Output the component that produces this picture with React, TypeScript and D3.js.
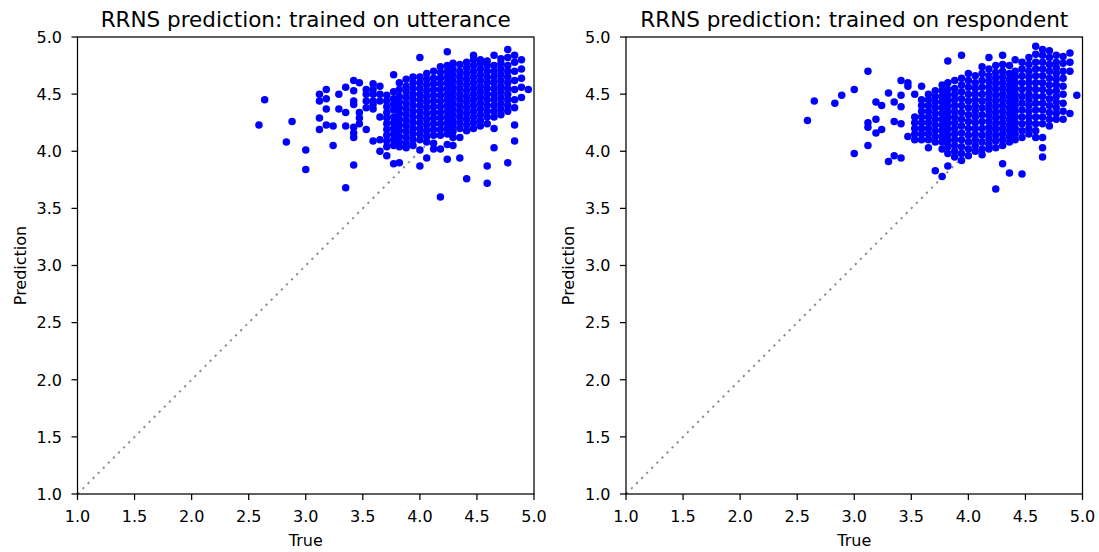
import React from "react";
import * as d3 from "d3";

const titles = [
  "RRNS prediction: trained on utterance",
  "RRNS prediction: trained on respondent",
];
const xLabel = "True";
const yLabel = "Prediction";
const tickValues = [1.0, 1.5, 2.0, 2.5, 3.0, 3.5, 4.0, 4.5, 5.0];
const diagRange = [1, 4.75];

// Panel 1: trained on utterance — columns of true value with predictions
const uttTrue = [
  2.59, 2.64, 2.83, 2.88, 3.0, 3.12, 3.18, 3.24, 3.29, 3.35, 3.42, 3.47, 3.53, 3.59, 3.65,
  3.71, 3.77, 3.82, 3.88, 3.94, 4.0, 4.06, 4.12, 4.18, 4.24, 4.29, 4.35, 4.41, 4.47, 4.53,
  4.59, 4.65, 4.71, 4.77, 4.83, 4.89, 4.95,
];
const uttPred = [
  [4.23],
  [4.45],
  [4.08],
  [4.26],
  [4.01, 3.84],
  [4.5, 4.44, 4.29, 4.19],
  [4.54, 4.46, 4.37, 4.23],
  [4.22, 4.05],
  [4.5, 4.37],
  [4.56, 4.34, 4.22, 3.68],
  [4.62, 4.53, 4.44, 4.41, 4.21, 4.16, 4.12, 3.88],
  [4.6, 4.34, 4.29, 4.24],
  [4.54, 4.5, 4.44, 4.38, 4.19],
  [4.59, 4.54, 4.5, 4.44, 4.41, 4.37, 4.09],
  [4.57, 4.5, 4.44, 4.3, 4.1, 4.0],
  [3.96, 4.04, 4.09, 4.14, 4.19, 4.24, 4.29, 4.34, 4.39, 4.44, 4.49],
  [3.89, 4.05, 4.1, 4.15, 4.2, 4.25, 4.3, 4.36, 4.41, 4.46, 4.52, 4.67],
  [3.9, 4.04, 4.08, 4.13, 4.18, 4.23, 4.28, 4.33, 4.38, 4.43, 4.48, 4.54, 4.6],
  [4.03, 4.07, 4.12, 4.17, 4.22, 4.27, 4.32, 4.37, 4.42, 4.47, 4.52, 4.57, 4.63],
  [4.05, 4.1, 4.15, 4.2, 4.25, 4.3, 4.35, 4.4, 4.45, 4.5, 4.55, 4.6, 4.65],
  [3.87, 4.01, 4.1, 4.15, 4.2, 4.25, 4.3, 4.35, 4.4, 4.45, 4.5, 4.55, 4.6, 4.65, 4.82],
  [3.94, 4.08, 4.13, 4.18, 4.23, 4.28, 4.33, 4.38, 4.43, 4.48, 4.53, 4.58, 4.63, 4.68],
  [4.02, 4.07, 4.14, 4.19, 4.24, 4.29, 4.34, 4.39, 4.44, 4.49, 4.54, 4.59, 4.64, 4.7],
  [3.6, 4.02, 4.14, 4.19, 4.24, 4.29, 4.34, 4.39, 4.44, 4.49, 4.54, 4.59, 4.64, 4.69, 4.74],
  [3.93, 4.06, 4.15, 4.2, 4.25, 4.3, 4.35, 4.4, 4.45, 4.5, 4.55, 4.6, 4.65, 4.7, 4.75, 4.87],
  [4.05, 4.12, 4.17, 4.22, 4.27, 4.32, 4.37, 4.42, 4.47, 4.52, 4.57, 4.62, 4.67, 4.72, 4.77],
  [3.94, 4.12, 4.2, 4.25, 4.3, 4.35, 4.4, 4.45, 4.5, 4.55, 4.6, 4.65, 4.7, 4.76],
  [3.76, 4.18, 4.23, 4.28, 4.33, 4.38, 4.43, 4.48, 4.53, 4.58, 4.63, 4.68, 4.73, 4.78],
  [4.2, 4.25, 4.3, 4.35, 4.4, 4.45, 4.5, 4.55, 4.6, 4.65, 4.7, 4.75, 4.8, 4.84],
  [4.22, 4.27, 4.32, 4.37, 4.42, 4.47, 4.52, 4.57, 4.62, 4.67, 4.72, 4.77, 4.8],
  [3.72, 3.87, 4.24, 4.3, 4.35, 4.4, 4.45, 4.5, 4.55, 4.6, 4.65, 4.7, 4.75, 4.79],
  [4.03, 4.2, 4.3, 4.35, 4.4, 4.45, 4.5, 4.55, 4.6, 4.65, 4.7, 4.75, 4.84],
  [4.32, 4.37, 4.42, 4.47, 4.52, 4.57, 4.62, 4.67, 4.72, 4.77, 4.81],
  [3.9, 4.35, 4.4, 4.45, 4.5, 4.55, 4.6, 4.65, 4.7, 4.75, 4.82, 4.89],
  [4.09, 4.23, 4.38, 4.45, 4.54, 4.62, 4.7, 4.78, 4.84],
  [4.47, 4.56, 4.64, 4.72, 4.8],
  [4.54],
];

// Panel 2: trained on respondent
const respTrue = [
  2.59, 2.65, 2.83, 2.89, 3.0, 3.12, 3.19, 3.24, 3.3, 3.35, 3.41, 3.47, 3.53, 3.59, 3.65,
  3.71, 3.77, 3.82, 3.88, 3.94, 4.0, 4.06, 4.12, 4.18, 4.24, 4.3, 4.36, 4.41, 4.47, 4.53,
  4.59, 4.65, 4.71, 4.77, 4.83, 4.89, 4.95,
];
const respPred = [
  [4.27],
  [4.44],
  [4.42],
  [4.49],
  [4.54, 3.98],
  [4.7, 4.25, 4.21, 4.05],
  [4.43, 4.28, 4.16],
  [4.4, 4.19],
  [4.51, 3.91],
  [4.43, 4.26, 3.96],
  [4.62, 4.49, 4.39, 4.24, 3.94],
  [4.6, 4.57, 4.13],
  [4.5, 4.3, 4.25, 4.2, 4.15, 4.1],
  [4.57, 4.45, 4.4, 4.35, 4.3, 4.25, 4.2, 4.15, 4.1],
  [4.5, 4.45, 4.4, 4.35, 4.3, 4.25, 4.2, 4.15, 4.1, 4.03],
  [3.83, 4.08, 4.13, 4.18, 4.23, 4.28, 4.33, 4.38, 4.43, 4.48, 4.53],
  [3.78, 4.02, 4.08, 4.13, 4.18, 4.23, 4.28, 4.33, 4.38, 4.43, 4.48, 4.53, 4.58],
  [3.87, 3.98, 4.04, 4.09, 4.14, 4.19, 4.24, 4.29, 4.34, 4.39, 4.44, 4.49, 4.54, 4.6, 4.79],
  [3.95, 4.0, 4.05, 4.1, 4.15, 4.2, 4.25, 4.3, 4.35, 4.4, 4.45, 4.5, 4.55, 4.62],
  [3.92, 3.98, 4.04, 4.1, 4.16, 4.22, 4.28, 4.34, 4.4, 4.46, 4.52, 4.58, 4.64, 4.84],
  [3.96, 4.02, 4.08, 4.14, 4.2, 4.26, 4.32, 4.38, 4.44, 4.5, 4.56, 4.62, 4.68],
  [4.0, 4.05, 4.1, 4.15, 4.2, 4.25, 4.3, 4.35, 4.4, 4.45, 4.5, 4.55, 4.6, 4.66],
  [3.97, 4.02, 4.08, 4.14, 4.2, 4.26, 4.32, 4.38, 4.44, 4.5, 4.56, 4.62, 4.68, 4.74],
  [4.02, 4.06, 4.11, 4.16, 4.21, 4.26, 4.31, 4.36, 4.41, 4.46, 4.51, 4.56, 4.61, 4.66, 4.72, 4.82],
  [3.67, 4.03, 4.09, 4.14, 4.19, 4.24, 4.29, 4.34, 4.39, 4.44, 4.49, 4.54, 4.59, 4.64, 4.69, 4.75],
  [3.89, 4.05, 4.1, 4.15, 4.2, 4.25, 4.3, 4.35, 4.4, 4.45, 4.5, 4.55, 4.6, 4.65, 4.7, 4.76, 4.84],
  [3.81, 4.08, 4.13, 4.18, 4.23, 4.28, 4.33, 4.38, 4.43, 4.48, 4.53, 4.58, 4.63, 4.68, 4.75],
  [4.1, 4.15, 4.2, 4.25, 4.3, 4.35, 4.4, 4.45, 4.5, 4.55, 4.6, 4.65, 4.7, 4.8],
  [3.8, 4.12, 4.18, 4.24, 4.3, 4.36, 4.42, 4.48, 4.54, 4.6, 4.66, 4.72, 4.78],
  [4.15, 4.2, 4.25, 4.3, 4.35, 4.4, 4.45, 4.5, 4.55, 4.6, 4.65, 4.7, 4.76, 4.82],
  [4.12, 4.18, 4.24, 4.3, 4.36, 4.42, 4.48, 4.54, 4.6, 4.66, 4.72, 4.78, 4.85, 4.92],
  [3.95, 4.03, 4.12, 4.24, 4.3, 4.36, 4.42, 4.48, 4.54, 4.6, 4.66, 4.72, 4.78, 4.84, 4.89],
  [4.22, 4.28, 4.34, 4.4, 4.46, 4.52, 4.58, 4.64, 4.7, 4.76, 4.82, 4.88],
  [4.28, 4.33, 4.38, 4.43, 4.48, 4.53, 4.58, 4.63, 4.68, 4.73, 4.78, 4.84],
  [4.28, 4.35, 4.42, 4.5, 4.57, 4.64, 4.7, 4.77, 4.83],
  [4.33, 4.7, 4.78, 4.86],
  [4.49],
];

const W = 1099;
const H = 552;
const TOP = 37;
const BOTTOM = 494;
const FONT = "DejaVu Sans, sans-serif";
const fmt = d3.format(".1f");

type PanelProps = {
  x0: number;
  x1: number;
  title: string;
  trueVals: number[];
  predVals: number[][];
};

function Panel({ x0, x1, title, trueVals, predVals }: PanelProps) {
  const x = d3.scaleLinear().domain([1, 5]).range([x0, x1]);
  const y = d3.scaleLinear().domain([1, 5]).range([BOTTOM, TOP]);
  const pts: [number, number][] = trueVals.flatMap((t, i) =>
    predVals[i].map((p) => [t, p] as [number, number])
  );
  const diag = d3.line<number>().x((d) => x(d)).y((d) => y(d))(diagRange) || "";
  const cx = (x0 + x1) / 2;
  const cy = (TOP + BOTTOM) / 2;
  const tickLen = 6;
  return (
    <g>
      <path d={diag} fill="none" stroke="#8a8a8a" strokeWidth={1.9} strokeDasharray="2.2,5" />
      {pts.map(([t, p], i) => (
        <circle key={i} cx={x(t)} cy={y(p)} r={3.75} fill="#0000ff" />
      ))}
      <rect x={x0} y={TOP} width={x1 - x0} height={BOTTOM - TOP} fill="none" stroke="#000" strokeWidth={1.25} />
      {tickValues.map((v) => (
        <g key={"x" + v}>
          <line x1={x(v)} x2={x(v)} y1={BOTTOM} y2={BOTTOM + tickLen} stroke="#000" strokeWidth={1.25} />
          <text x={x(v)} y={521.5} textAnchor="middle" fontSize={16} fontFamily={FONT} fill="#000">
            {fmt(v)}
          </text>
        </g>
      ))}
      {tickValues.map((v) => (
        <g key={"y" + v}>
          <line x1={x0 - tickLen} x2={x0} y1={y(v)} y2={y(v)} stroke="#000" strokeWidth={1.25} />
          <text x={x0 - 15.5} y={y(v) + 5.8} textAnchor="end" fontSize={16} fontFamily={FONT} fill="#000">
            {fmt(v)}
          </text>
        </g>
      ))}
      <text x={cx} y={546} textAnchor="middle" fontSize={16} fontFamily={FONT} fill="#000">
        {xLabel}
      </text>
      <text
        transform={`translate(${x0 - 52},${cy}) rotate(-90)`}
        textAnchor="middle"
        fontSize={16}
        fontFamily={FONT}
        fill="#000"
      >
        {yLabel}
      </text>
      <text x={cx} y={26.5} textAnchor="middle" fontSize={21.5} fontFamily={FONT} fill="#000">
        {title}
      </text>
    </g>
  );
}

export default function App() {
  return (
    <svg
      width={W}
      height={H}
      viewBox={`0 0 ${W} ${H}`}
      style={{ position: "absolute", left: 0, top: 0, background: "#fff" }}
    >
      <rect width={W} height={H} fill="#fff" />
      <Panel x0={77.5} x1={534} title={titles[0]} trueVals={uttTrue} predVals={uttPred} />
      <Panel x0={626} x1={1082.5} title={titles[1]} trueVals={respTrue} predVals={respPred} />
    </svg>
  );
}
